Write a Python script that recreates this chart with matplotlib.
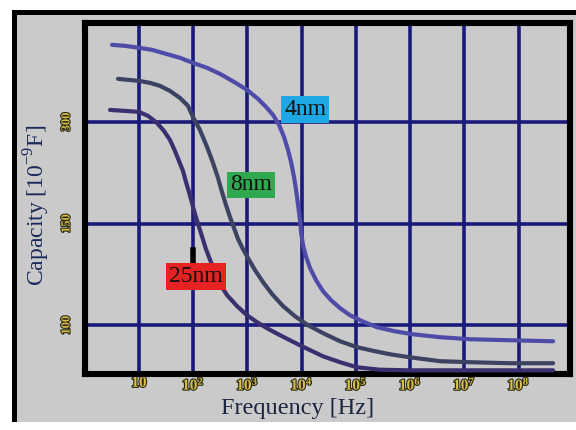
import numpy as np
import matplotlib
matplotlib.use("Agg")
import matplotlib.pyplot as plt
from matplotlib.patches import Rectangle
import matplotlib.patheffects as pe

plt.rcParams['font.family'] = ['Liberation Serif', 'DejaVu Serif']
plt.rcParams['mathtext.fontset'] = 'custom'
plt.rcParams['mathtext.rm'] = 'Liberation Serif'
plt.rcParams['mathtext.bf'] = 'Liberation Serif:bold'

# data (frequency in Hz, capacity in 1e-9 F)
freq_4nm = [3.18, 5.52, 10, 17.4, 31.5, 57, 99, 180, 312, 566, 984, 1570, 2200, 2970,
            3830, 4730, 5610, 6370, 7240, 7890, 8590, 9340, 9750, 10600, 12100, 14300,
            18400, 24800, 34900, 51100, 78100, 130000, 246000, 528000, 1.09e6, 3.58e6,
            1.28e7, 7.0e7, 4.35e8]
cap_4nm = [413.8, 412.3, 409.4, 406.4, 400.5, 394.6, 387.2, 379.8, 370.9, 359.1, 347.3,
           334.0, 322.2, 310.3, 295.6, 277.8, 258.6, 240.9, 218.7, 199.5, 177.3, 155.2,
           145.8, 139.4, 133.5, 128.1, 122.2, 116.7, 112.3, 108.4, 104.9, 102.0, 99.0,
           97.0, 95.6, 94.1, 93.1, 92.6, 92.1]

freq_8nm = [4.1, 6.27, 10, 16, 24.4, 37.3, 57, 80.1, 99, 133, 180, 232, 287, 340, 403,
            477, 566, 671, 830, 1030, 1380, 1940, 2850, 4540, 7550, 13100, 24800, 51100,
            105000, 226000, 428000, 1.0e6, 3.58e6, 1.28e7, 7.0e7, 4.35e8]
cap_8nm = [363.6, 362.1, 360.6, 357.6, 353.2, 345.8, 335.4, 323.7, 307.4, 288.2, 263.1,
           239.4, 217.2, 196.5, 177.3, 159.6, 147.8, 142.4, 137.4, 133.0, 127.1, 121.2,
           115.3, 109.4, 104.4, 100.0, 96.1, 92.1, 89.2, 87.2, 85.7, 84.2, 82.3, 81.8,
           81.3, 81.3]

freq_25nm = [2.92, 5.52, 10, 14.7, 21.5, 28.9, 37.3, 46.1, 54.7, 64.8, 73.6, 83.7, 95.1,
             108, 123, 145, 172, 213, 275, 340, 421, 643, 984, 1500, 2300, 3990, 6110,
             9340, 24800, 51100, 105000, 279000, 1.0e6, 1.28e7, 4.35e8]
cap_25nm = [317.7, 316.3, 314.8, 308.9, 298.5, 286.7, 273.4, 257.1, 242.4, 227.6, 211.3,
            196.5, 180.3, 164.1, 149.8, 143.8, 137.4, 131.0, 123.6, 118.7, 114.8, 109.4,
            104.9, 101.5, 98.5, 95.1, 92.6, 90.1, 84.7, 81.8, 79.3, 78.1, 77.8, 77.8, 77.8]

series_names = ['4nm', '8nm', '25nm']
line_colors = ['#4e4ca8', '#3c4262', '#3a3070']

label_freq = [11600, 1170, 113]
label_cap = [318, 207, 124]
label_colors = ['#1ea8e4', '#2fa84f', '#e62222']
pointer_freq = [100, 100]
pointer_cap = [130, 137]

xtick_vals = [1e1, 1e2, 1e3, 1e4, 1e5, 1e6, 1e7, 1e8]
xtick_labels = ['10'] + [r'$\mathbf{10^{%d}}$' % k for k in range(2, 9)]
ytick_vals = [100, 150, 300]
ytick_labels = ['100', '150', '300']


# y axis of the original is not linear: 100, 150, 300 are equally spaced
def fwd(v):
    v = np.asarray(v, dtype=float)
    return np.where(v <= 150, (v - 100) / 50.0, 1 + (v - 150) / 150.0)


def inv(g):
    g = np.asarray(g, dtype=float)
    return np.where(g <= 1, 100 + 50.0 * g, 150 + 150.0 * (g - 1))


W, H = 576, 430
bg = '#cacaca'
fig = plt.figure(figsize=(W / 100, H / 100), dpi=100)
fig.patch.set_facecolor('white')

# screenshot panel with black edges on top and left
fig.add_artist(Rectangle((12 / W, 1 - 422 / H), (W - 12) / W, 412 / H,
                         transform=fig.transFigure, fc=bg, ec='none', zorder=0))
fig.add_artist(Rectangle((12 / W, 1 - 422 / H), 5 / W, 412 / H,
                         transform=fig.transFigure, fc='black', ec='none', zorder=0))
fig.add_artist(Rectangle((12 / W, 1 - 15 / H), (W - 12) / W, 5 / H,
                         transform=fig.transFigure, fc='black', ec='none', zorder=0))

ax = fig.add_axes([85 / W, 1 - 374 / H, 485 / W, 351 / H])
ax.set_facecolor(bg)
ax.set_xscale('log')
ax.set_yscale('function', functions=(fwd, inv))
ax.set_xlim(1.01, 8.9e8)
ax.set_ylim(76, 446)

for f, c, col in zip([freq_4nm, freq_8nm, freq_25nm], [cap_4nm, cap_8nm, cap_25nm], line_colors):
    ax.plot(f, c, color=col, lw=3.0, solid_capstyle='round', solid_joinstyle='round', zorder=3)

ax.plot(pointer_freq, pointer_cap, color='black', lw=4, zorder=4)
for name, lf, lc, col in zip(series_names, label_freq, label_cap, label_colors):
    ax.text(lf, lc, name, fontsize=17, color='#111111', ha='center', va='center', zorder=5,
            bbox=dict(boxstyle='square,pad=0.12', fc=col, ec='none'))

ax.set_axisbelow(True)
ax.set_xticks(xtick_vals)
ax.set_xticklabels(xtick_labels)
ax.xaxis.set_minor_locator(matplotlib.ticker.NullLocator())
ax.set_yticks(ytick_vals)
ax.set_yticklabels(ytick_labels, rotation=90, va='center')
ax.yaxis.set_minor_locator(matplotlib.ticker.NullLocator())
ax.grid(True, color='#1a1a7a', lw=2.6)

stroke = [pe.withStroke(linewidth=1.6, foreground='#2a2a14')]
ax.tick_params(axis='x', length=0, pad=2, labelsize=11, labelcolor='#d8bc48')
ax.tick_params(axis='y', length=0, pad=9, labelsize=9, labelcolor='#d8bc48')
for t in ax.get_xticklabels() + ax.get_yticklabels():
    t.set_fontweight('bold')
    t.set_path_effects(stroke)

for s in ax.spines.values():
    s.set_linewidth(4.4)
    s.set_color('black')

ax.set_xlabel('Frequency [Hz]', fontsize=17.5, color='#1c2440', va='top')
ax.xaxis.set_label_coords(0.439, -0.068)
ax.set_ylabel(r'Capacity [10$^{\mathrm{-9}}$F]', fontsize=17, color='#1a2a5a')
ax.yaxis.set_label_coords(-0.068, 0.481)

fig.savefig('out.png', dpi=100, facecolor=fig.get_facecolor())
